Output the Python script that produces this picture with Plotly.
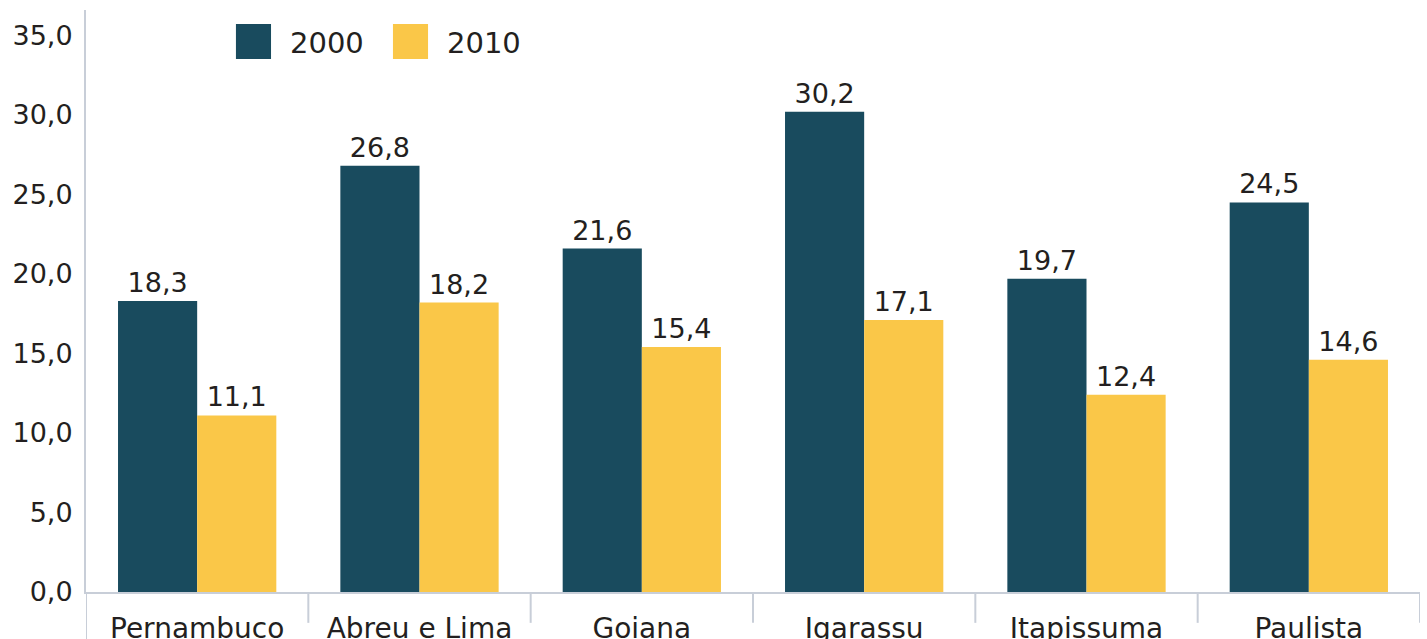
import plotly.graph_objects as go

categories = ["Pernambuco", "Abreu e Lima", "Goiana", "Igarassu", "Itapissuma", "Paulista"]
values_2000 = [18.3, 26.8, 21.6, 30.2, 19.7, 24.5]
values_2010 = [11.1, 18.2, 15.4, 17.1, 12.4, 14.6]
series_names = ["2000", "2010"]
y_ticks = [0, 5, 10, 15, 20, 25, 30, 35]

TEAL = "#194B5E"
YELLOW = "#FAC748"
TXT = "#231F20"
AX = "#C8CED8"
FONT = "DejaVu Sans"

def fmt(v):
    return f"{v:.1f}".replace(".", ",")

fig = go.Figure()
for name, vals, col in [(series_names[0], values_2000, TEAL), (series_names[1], values_2010, YELLOW)]:
    fig.add_trace(go.Bar(
        x=categories, y=vals, name=name, marker=dict(color=col, line=dict(width=0)),
        text=[fmt(v) for v in vals], textposition="outside",
        textfont=dict(family=FONT, size=27, color=TXT), cliponaxis=False,
        showlegend=False,
    ))

# manual legend (large square swatches)
legend_items = [(0.1124, 0.1387, 0.1514, TEAL, series_names[0]),
                (0.2301, 0.2564, 0.2691, YELLOW, series_names[1])]
for x0, x1, xt, col, name in legend_items:
    fig.add_shape(type="rect", xref="paper", yref="paper", x0=x0, x1=x1, y0=0.916, y1=0.976,
                  fillcolor=col, line=dict(width=0))
    fig.add_annotation(xref="paper", yref="paper", x=xt, y=0.944, text=name, showarrow=False,
                       xanchor="left", yanchor="middle", font=dict(family=FONT, size=29, color=TXT))

# category divider ticks at boundaries
for i in range(len(categories) + 1):
    fig.add_shape(type="line", xref="x", yref="paper", x0=i - 0.5, x1=i - 0.5,
                  y0=0, y1=(-0.09 if i == 0 else -0.053), line=dict(color=AX, width=2))

fig.update_layout(
    width=1427, height=639,
    margin=dict(l=86, r=7, t=10, b=47),
    paper_bgcolor="white", plot_bgcolor="white",
    barmode="group", bargap=0.288, bargroupgap=0,
    font=dict(family=FONT, color=TXT),
    showlegend=False,
)
fig.update_yaxes(
    range=[0, 36.6], tickvals=y_ticks, ticktext=[fmt(v) for v in y_ticks],
    showgrid=False, zeroline=False, showline=True, linecolor=AX, linewidth=2,
    ticks="", tickfont=dict(family=FONT, size=27, color=TXT), ticklabelstandoff=6,
    automargin=False,
)
fig.update_xaxes(
    range=[-0.5, len(categories) - 0.5],
    showgrid=False, showline=True, linecolor=AX, linewidth=2,
    ticks="", tickfont=dict(family=FONT, size=28, color=TXT), ticklabelstandoff=10,
    automargin=False,
)

fig.write_html("out.html", config={"displayModeBar": False},
               post_script="document.body.style.margin='0';")
